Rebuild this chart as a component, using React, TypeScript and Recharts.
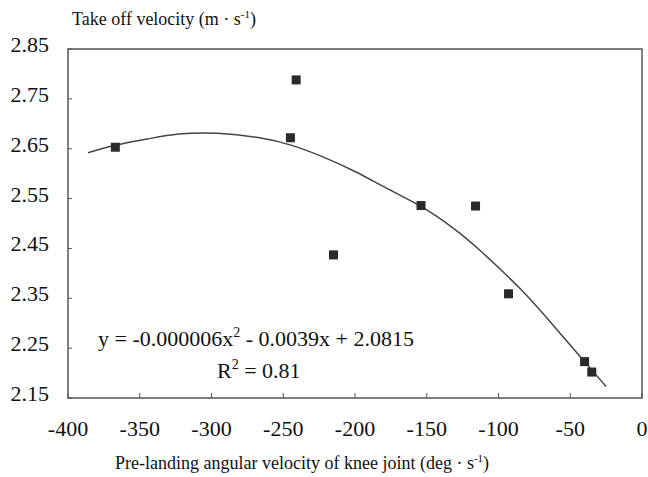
import React from 'react';
import {
  ComposedChart,
  Line,
  Scatter,
  XAxis,
  YAxis,
  ReferenceArea,
  Customized,
} from 'recharts';

// measured points
const velKnee = [-367, -241, -245, -215, -154, -116, -93, -40, -35];
const takeOff = [2.653, 2.788, 2.672, 2.437, 2.536, 2.535, 2.359, 2.223, 2.202];

// trend curve
const trendX = [-386, -366, -345, -324, -296, -266, -245, -222, -199, -176, -153, -129, -118, -83, -59, -41, -25];
const trendY = [2.642, 2.659, 2.669, 2.681, 2.683, 2.673, 2.659, 2.634, 2.604, 2.567, 2.535, 2.486, 2.46, 2.367, 2.286, 2.226, 2.173];

const xTicks = [-400, -350, -300, -250, -200, -150, -100, -50, 0];
const yTicks = [2.15, 2.25, 2.35, 2.45, 2.55, 2.65, 2.75, 2.85];

const points = velKnee.map((x, i) => ({ x, y: takeOff[i] }));
const trend = trendX.map((x, i) => ({ x, y: trendY[i] }));

const FONT = '"Liberation Serif", "Times New Roman", Times, serif';
const AXIS = '#555';
const serif = { fontFamily: FONT };

function XTick(props: any) {
  const { x, y, payload } = props;
  return (
    <g>
      <line x1={x} y1={y} x2={x} y2={y - 5} stroke={AXIS} strokeWidth={1} />
      <text x={x} y={y + 38} textAnchor="middle" style={serif} fontSize={22} fill="#111">
        {payload.value}
      </text>
    </g>
  );
}

function YTick(props: any) {
  const { x, y, payload } = props;
  return (
    <g>
      <line x1={x} y1={y} x2={x + 4} y2={y} stroke={AXIS} strokeWidth={1} />
      <text x={x - 19} y={y + 3} textAnchor="end" style={serif} fontSize={22} fill="#111">
        {Number(payload.value).toFixed(2)}
      </text>
    </g>
  );
}

function Texts() {
  return (
    <g style={serif} fill="#111">
      <text x={72} y={25} fontSize={18} style={serif}>
        Take off velocity (m · s<tspan dy={-7} fontSize={11}>-1</tspan>
        <tspan dy={7}>)</tspan>
      </text>
      <text x={115} y={469} fontSize={18} style={serif}>
        Pre-landing angular velocity of knee joint (deg · s<tspan dy={-7} fontSize={11}>-1</tspan>
        <tspan dy={7}>)</tspan>
      </text>
      <text x={98} y={346} fontSize={22} style={serif}>
        y = -0.000006x<tspan dy={-9} fontSize={14}>2</tspan>
        <tspan dy={9}> - 0.0039x + 2.0815</tspan>
      </text>
      <text x={217} y={378} fontSize={22} style={serif}>
        R<tspan dy={-9} fontSize={14}>2</tspan>
        <tspan dy={9}> = 0.81</tspan>
      </text>
    </g>
  );
}

export default function App() {
  return (
    <div style={{ position: 'absolute', left: 0, top: 0, background: '#fff' }}>
      <ComposedChart width={648} height={477} margin={{ top: 49, right: 6, bottom: 0, left: 0 }}>
        <XAxis
          type="number"
          dataKey="x"
          domain={[-400, 0]}
          ticks={xTicks}
          allowDataOverflow
          axisLine={false}
          tickLine={false}
          tickSize={0}
          tickMargin={0}
          height={79}
          tick={<XTick />}
          interval={0}
        />
        <YAxis
          type="number"
          dataKey="y"
          domain={[2.15, 2.85]}
          ticks={yTicks}
          allowDataOverflow
          axisLine={false}
          tickLine={false}
          tickSize={0}
          tickMargin={0}
          width={68}
          tick={<YTick />}
          interval={0}
        />
        <ReferenceArea x1={-400} x2={0} y1={2.15} y2={2.85} fill="none" stroke={AXIS} strokeWidth={1.5} />
        <Line
          data={trend}
          dataKey="y"
          type="basis"
          stroke="#444"
          strokeWidth={1.5}
          dot={false}
          isAnimationActive={false}
        />
        <Scatter
          data={points}
          dataKey="y"
          fill="#2a2a2a"
          isAnimationActive={false}
          shape={(p: any) => <rect x={p.cx - 4.5} y={p.cy - 4.5} width={9} height={9} fill="#2a2a2a" />}
        />
        <Customized component={Texts} />
      </ComposedChart>
    </div>
  );
}
